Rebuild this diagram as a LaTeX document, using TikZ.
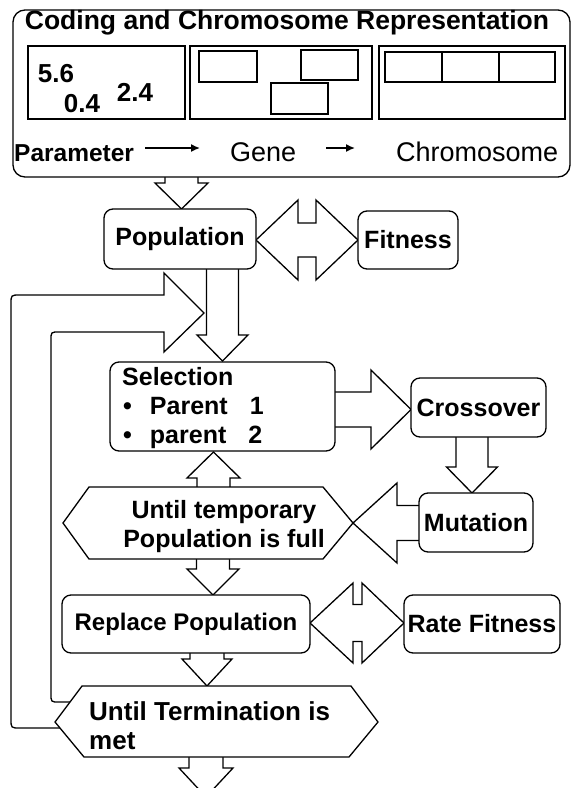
\documentclass[tikz,border=0pt]{standalone}
\usepackage{fontspec}
\setmainfont{Liberation Sans}
\usetikzlibrary{arrows.meta}
% vertical block arrow: cx, y start, y head base, y tip, shaft half width, head half width
\newcommand\BArrowV[6]{\draw[barrow] ({#1-#5},#2) -- ({#1-#5},#3) -- ({#1-#6},#3) -- (#1,#4) -- ({#1+#6},#3) -- ({#1+#5},#3) -- ({#1+#5},#2);}
% horizontal block arrow: cy, x start, x head base, x tip, shaft half, head half
\newcommand\BArrowH[6]{\draw[barrow] (#2,{#1-#5}) -- (#3,{#1-#5}) -- (#3,{#1-#6}) -- (#4,#1) -- (#3,{#1+#6}) -- (#3,{#1+#5}) -- (#2,{#1+#5});}
% double horizontal block arrow: cy, left tip, left base, right base, right tip, shaft half, head half
\newcommand\BArrowD[7]{\draw[barrow] (#2,#1) -- (#3,{#1-#7}) -- (#3,{#1-#6}) -- (#4,{#1-#6}) -- (#4,{#1-#7}) -- (#5,#1) -- (#4,{#1+#7}) -- (#4,{#1+#6}) -- (#3,{#1+#6}) -- (#3,{#1+#7}) -- cycle;}
\begin{document}
\begin{tikzpicture}[x=1pt,y=-1pt,
  barrow/.style={draw,line width=1.3pt,fill=white,line join=miter,miter limit=6},
  box/.style={draw,line width=1.3pt,rounded corners=9pt,fill=white,inner sep=0pt},
  sq/.style={draw,line width=1.2pt,fill=white,inner sep=0pt},
  lbl/.style={inner sep=0pt,font=\bfseries\fontsize{25}{29}\selectfont},
  reg/.style={inner sep=0pt,font=\fontsize{27}{29}\selectfont},
  tarrow/.style={line width=1.5pt,-{Latex[length=9pt,width=8pt]}},
  hexa/.style={draw,line width=1.3pt,fill=white,line join=miter}]
\useasboundingbox (0,0) rectangle (575,788);
\fill[white] (0,0) rectangle (575,788);

% ---------- block arrows ----------
\BArrowV{181.5}{176}{183}{209}{16.5}{26.5}
\BArrowV{222.5}{269}{335}{361}{16}{25.5}
\BArrowD{240}{256}{298}{316}{358}{17}{40}
\BArrowH{409.5}{335}{371}{411}{17.5}{39.5}
\BArrowV{472}{437}{467}{493}{16}{25.5}
\BArrowH{523}{419}{397}{353}{17.5}{40}
\BArrowV{213.5}{487}{478}{452}{16.5}{26.5}
\BArrowV{213}{559}{569}{595}{16.5}{26}
\BArrowD{623}{310}{353}{362}{404}{18.5}{40}
\BArrowV{207}{653}{659}{686}{17}{25}
\BArrowV{206}{757}{768}{797}{17}{27}

% ---------- loop-back arrow ----------
\draw[barrow] (100,728) -- (20,728) .. controls (11,728) .. (11,719) -- (11,304)
  .. controls (11,295) .. (20,295) -- (164,295) -- (164,273) -- (204,313) -- (164,352)
  -- (164,332) -- (59,332) .. controls (51,332) .. (51,340) -- (51,694)
  .. controls (51,702) .. (59,702) -- (100,702);

% ---------- coding box ----------
\node[box,rounded corners=12pt,minimum width=557pt,minimum height=167pt] (coding) at (291.5,93.5) {};
\node[lbl,font=\bfseries\fontsize{26.5}{29}\selectfont] (title) at (287,23) {Coding and Chromosome Representation};
\node[sq,minimum width=157pt,minimum height=73pt] (parbox) at (106.5,82.5) {};
\node[sq,minimum width=182pt,minimum height=73pt] (genebox) at (281,82.5) {};
\node[sq,minimum width=186pt,minimum height=73pt] (chrbox) at (472,82.5) {};
\node[sq,minimum width=58pt,minimum height=31pt] (g1) at (228,66.5) {};
\node[sq,minimum width=57pt,minimum height=30pt] (g2) at (329.5,65) {};
\node[sq,minimum width=57pt,minimum height=31pt] (g3) at (299.5,98.5) {};
\node[sq,minimum width=57pt,minimum height=30pt] (c1) at (413.5,67) {};
\node[sq,minimum width=57pt,minimum height=30pt] (c2) at (470.5,67) {};
\node[sq,minimum width=56pt,minimum height=30pt] (c3) at (527,67) {};
\node[lbl,font=\bfseries\fontsize{26}{29}\selectfont] (v1) at (56,74) {5.6};
\node[lbl,font=\bfseries\fontsize{26}{29}\selectfont] (v2) at (82,104) {0.4};
\node[lbl,font=\bfseries\fontsize{26}{29}\selectfont] (v3) at (135,92) {2.4};
\node[lbl,font=\bfseries\fontsize{24.5}{29}\selectfont,anchor=base west] (param) at (14,161) {Parameter};
\node[reg,anchor=base west] (gene) at (230,161) {Gene};
\node[reg,anchor=base west] (chrom) at (396,161) {Chromosome};
\draw[tarrow] ([xshift=11pt,yshift=13pt]param.base east) -- ([xshift=-30pt,yshift=13pt]gene.base west);
\draw[tarrow] ([xshift=30pt,yshift=13pt]gene.base east) -- ([xshift=-41pt,yshift=13pt]chrom.base west);

% ---------- process boxes ----------
\node[box,lbl,minimum width=152pt,minimum height=60pt] (pop) at (180,239) {Population};
\node[box,lbl,minimum width=100pt,minimum height=58pt] (fit) at (408,240) {Fitness};
\node[box,minimum width=225pt,minimum height=89pt] (sel) at (222.5,406.5) {};
\node[lbl,anchor=base west] (seltxt) at (122,385) {Selection};
\node[lbl,anchor=base west] (par1) at (123,414) {\textbullet\hspace{18pt}Parent\hspace{22pt}1};
\node[lbl,anchor=base west] (par2) at (123,443) {\textbullet\hspace{18pt}parent\hspace{22pt}2};
\node[box,lbl,minimum width=135pt,minimum height=59pt] (cross) at (478.5,407.5) {Crossover};
\node[box,lbl,minimum width=114pt,minimum height=59pt] (mut) at (476,522.5) {Mutation};
\node[box,lbl,font=\bfseries\fontsize{24}{29}\selectfont,minimum width=248pt,minimum height=58pt] (repl) at (186,624) {Replace Population};
\node[box,lbl,minimum width=156pt,minimum height=58pt] (rate) at (482,624) {Rate Fitness};

% ---------- hexagons ----------
\draw[hexa] (63,523) -- (89,487) -- (323,487) -- (353,523) -- (323,559) -- (89,559) -- cycle;
\node[lbl,align=center] (until1) at (224,527) {Until temporary\\Population is full};
\draw[hexa] (55,722) -- (82,686) -- (351,686) -- (378,722) -- (349,757) -- (84,757) -- cycle;
\node[lbl,font=\bfseries\fontsize{26}{29}\selectfont,align=left,anchor=west] (until2) at (89,726) {Until Termination is\\met};
\end{tikzpicture}
\end{document}
